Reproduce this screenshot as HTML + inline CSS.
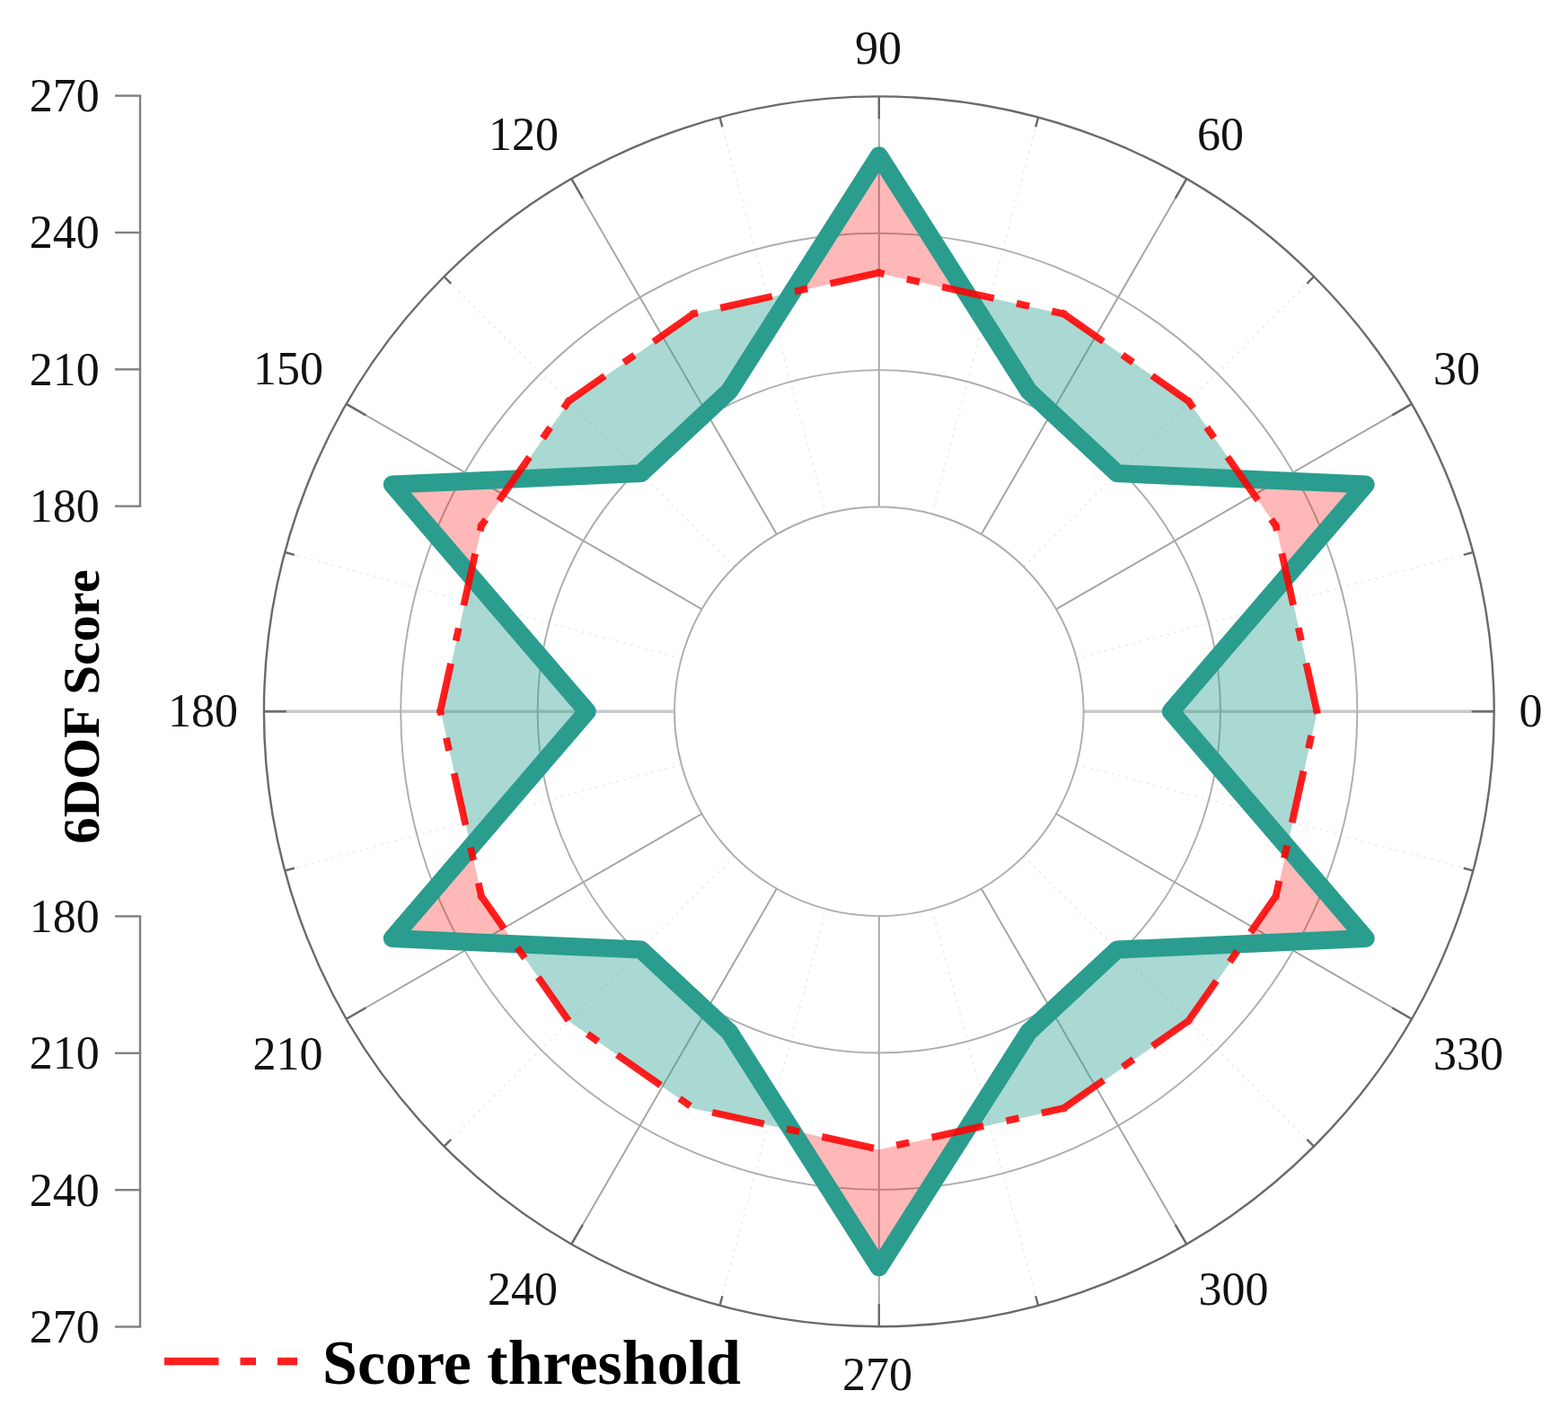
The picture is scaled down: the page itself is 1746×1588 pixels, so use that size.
<!DOCTYPE html>
<html lang="en">
<head>
<meta charset="utf-8">
<title>6DOF Score polar chart</title>
<style>
html, body { margin: 0; padding: 0; background: #ffffff; }
body { width: 1746px; height: 1588px; overflow: hidden; font-family: "Liberation Serif", serif; }
svg { display: block; filter: blur(0.6px); }
</style>
</head>
<body>
<svg width="1746" height="1588" viewBox="0 0 1746 1588">
<rect width="1746" height="1588" fill="#ffffff"/>
<g stroke="#eeeeee" stroke-width="1.8" stroke-dasharray="3 5" fill="none">
<line x1="1198.84" y1="733.34" x2="1640.36" y2="615.03"/>
<line x1="1139.88" y1="631.22" x2="1463.10" y2="308.00"/>
<line x1="1037.76" y1="572.26" x2="1156.07" y2="130.74"/>
<line x1="919.84" y1="572.26" x2="801.53" y2="130.74"/>
<line x1="817.72" y1="631.22" x2="494.50" y2="308.00"/>
<line x1="758.76" y1="733.34" x2="317.24" y2="615.03"/>
<line x1="758.76" y1="851.26" x2="317.24" y2="969.57"/>
<line x1="817.72" y1="953.38" x2="494.50" y2="1276.60"/>
<line x1="919.84" y1="1012.34" x2="801.53" y2="1453.86"/>
<line x1="1037.76" y1="1012.34" x2="1156.07" y2="1453.86"/>
<line x1="1139.88" y1="953.38" x2="1463.10" y2="1276.60"/>
<line x1="1198.84" y1="851.26" x2="1640.36" y2="969.57"/>
</g>
<g stroke="#a4a4a4" stroke-width="1.9" fill="none">
<line x1="1206.60" y1="792.30" x2="1663.70" y2="792.30" stroke="#c9c9c9" stroke-width="3.6"/>
<line x1="1176.08" y1="678.40" x2="1571.94" y2="449.85"/>
<line x1="1092.70" y1="595.02" x2="1321.25" y2="199.16"/>
<line x1="978.80" y1="564.50" x2="978.80" y2="107.40"/>
<line x1="864.90" y1="595.02" x2="636.35" y2="199.16"/>
<line x1="781.52" y1="678.40" x2="385.66" y2="449.85"/>
<line x1="751.00" y1="792.30" x2="293.90" y2="792.30" stroke="#c9c9c9" stroke-width="3.6"/>
<line x1="781.52" y1="906.20" x2="385.66" y2="1134.75"/>
<line x1="864.90" y1="989.58" x2="636.35" y2="1385.44"/>
<line x1="978.80" y1="1020.10" x2="978.80" y2="1477.20"/>
<line x1="1092.70" y1="989.58" x2="1321.25" y2="1385.44"/>
<line x1="1176.08" y1="906.20" x2="1571.94" y2="1134.75"/>
</g>
<g stroke="#adadad" stroke-width="1.9" fill="none">
<circle cx="978.8" cy="792.3" r="227.80"/>
<circle cx="978.8" cy="792.3" r="380.17"/>
<circle cx="978.8" cy="792.3" r="532.53"/>
</g>
<circle cx="978.8" cy="792.3" r="684.9" stroke="#6a6a6a" stroke-width="2.4" fill="none"/>
<g stroke="#6a6a6a" stroke-width="2.4" fill="none">
<line x1="1663.70" y1="792.30" x2="1638.70" y2="792.30"/>
<line x1="1640.36" y1="615.03" x2="1629.74" y2="617.88"/>
<line x1="1571.94" y1="449.85" x2="1550.29" y2="462.35"/>
<line x1="1463.10" y1="308.00" x2="1455.32" y2="315.78"/>
<line x1="1321.25" y1="199.16" x2="1308.75" y2="220.81"/>
<line x1="1156.07" y1="130.74" x2="1153.22" y2="141.36"/>
<line x1="978.80" y1="107.40" x2="978.80" y2="132.40"/>
<line x1="801.53" y1="130.74" x2="804.38" y2="141.36"/>
<line x1="636.35" y1="199.16" x2="648.85" y2="220.81"/>
<line x1="494.50" y1="308.00" x2="502.28" y2="315.78"/>
<line x1="385.66" y1="449.85" x2="407.31" y2="462.35"/>
<line x1="317.24" y1="615.03" x2="327.86" y2="617.88"/>
<line x1="293.90" y1="792.30" x2="318.90" y2="792.30"/>
<line x1="317.24" y1="969.57" x2="327.86" y2="966.72"/>
<line x1="385.66" y1="1134.75" x2="407.31" y2="1122.25"/>
<line x1="494.50" y1="1276.60" x2="502.28" y2="1268.82"/>
<line x1="636.35" y1="1385.44" x2="648.85" y2="1363.79"/>
<line x1="801.53" y1="1453.86" x2="804.38" y2="1443.24"/>
<line x1="978.80" y1="1477.20" x2="978.80" y2="1452.20"/>
<line x1="1156.07" y1="1453.86" x2="1153.22" y2="1443.24"/>
<line x1="1321.25" y1="1385.44" x2="1308.75" y2="1363.79"/>
<line x1="1463.10" y1="1276.60" x2="1455.32" y2="1268.82"/>
<line x1="1571.94" y1="1134.75" x2="1550.29" y2="1122.25"/>
<line x1="1640.36" y1="969.57" x2="1629.74" y2="966.72"/>
</g>
<path d="M1303.80,792.30 L1433.35,641.41 L1466.80,792.30Z M1384.23,533.44 L1243.97,527.13 L1323.87,447.23Z M1243.97,527.13 L1145.31,435.21 L1185.04,350.02 L1323.87,447.23Z M1145.31,435.21 L1075.75,325.79 L1185.04,350.02Z M881.85,325.79 L812.29,435.21 L772.56,350.02Z M812.29,435.21 L713.63,527.13 L633.73,447.23 L772.56,350.02Z M713.63,527.13 L573.37,533.44 L633.73,447.23Z M524.25,641.41 L653.80,792.30 L490.80,792.30Z M653.80,792.30 L524.25,943.19 L490.80,792.30Z M573.37,1051.16 L713.63,1057.47 L633.73,1137.37Z M713.63,1057.47 L812.29,1149.39 L772.56,1234.58 L633.73,1137.37Z M812.29,1149.39 L881.85,1258.81 L772.56,1234.58Z M1075.75,1258.81 L1145.31,1149.39 L1185.04,1234.58Z M1145.31,1149.39 L1243.97,1057.47 L1323.87,1137.37 L1185.04,1234.58Z M1243.97,1057.47 L1384.23,1051.16 L1323.87,1137.37Z M1433.35,943.19 L1303.80,792.30 L1466.80,792.30Z" fill="#2a9d8f" fill-opacity="0.4" stroke="none"/>
<path d="M1433.35,641.41 L1520.77,539.57 L1421.08,586.06Z M1520.77,539.57 L1384.23,533.44 L1421.08,586.06Z M1075.75,325.79 L978.80,173.30 L978.80,304.30Z M978.80,173.30 L881.85,325.79 L978.80,304.30Z M573.37,533.44 L436.83,539.57 L536.52,586.06Z M436.83,539.57 L524.25,641.41 L536.52,586.06Z M524.25,943.19 L436.83,1045.03 L536.52,998.54Z M436.83,1045.03 L573.37,1051.16 L536.52,998.54Z M881.85,1258.81 L978.80,1411.30 L978.80,1280.30Z M978.80,1411.30 L1075.75,1258.81 L978.80,1280.30Z M1384.23,1051.16 L1520.77,1045.03 L1421.08,998.54Z M1520.77,1045.03 L1433.35,943.19 L1421.08,998.54Z" fill="#ff0000" fill-opacity="0.28" stroke="none"/>
<polygon points="1303.80,792.30 1520.77,539.57 1243.97,527.13 1145.31,435.21 978.80,173.30 812.29,435.21 713.63,527.13 436.83,539.57 653.80,792.30 436.83,1045.03 713.63,1057.47 812.29,1149.39 978.80,1411.30 1145.31,1149.39 1243.97,1057.47 1520.77,1045.03" fill="none" stroke="#2a9d8f" stroke-width="20.0" stroke-linejoin="round"/>
<path transform="translate(-0.5,-0.5)" d="M1467.45,795.23 L1454.98,738.99 M1449.39,713.76 L1446.25,699.60 M1440.65,674.36 L1427.88,616.76 M1422.29,591.52 L1420.43,583.13 M1422.80,588.52 L1415.97,578.77 M1401.14,557.59 L1367.30,509.26 M1352.48,488.09 L1344.16,476.21 M1329.33,455.03 L1322.15,444.77 M1326.33,448.95 L1283.34,418.85 M1262.17,404.03 L1250.29,395.71 M1229.11,380.88 L1182.58,348.30 M1187.97,350.67 L1171.86,347.10 M1146.63,341.51 L1132.47,338.37 M1107.23,332.77 L1049.63,320.00 M1024.39,314.41 L1010.24,311.27 M985.00,305.67 L975.87,303.65 M981.73,303.65 L924.96,316.24 M899.72,321.83 L885.57,324.97 M860.33,330.56 L802.73,343.33 M777.49,348.93 L769.63,350.67 M775.02,348.30 L728.16,381.11 M706.99,395.94 L695.11,404.26 M673.93,419.08 L631.27,448.95 M635.45,444.77 L628.04,455.36 M613.21,476.54 L604.90,488.41 M590.07,509.59 L556.23,557.92 M541.40,579.09 L534.80,588.52 M537.17,583.13 L535.22,591.91 M529.63,617.15 L516.86,674.75 M511.26,699.99 L508.13,714.14 M502.53,739.38 L490.15,795.23 M490.15,789.37 L491.84,796.98 M497.43,822.22 L500.57,836.38 M506.17,861.61 L518.94,919.22 M524.53,944.45 L527.67,958.61 M533.26,983.85 L537.17,1001.47 M534.80,996.08 L561.73,1034.54 M576.56,1055.72 L584.88,1067.59 M599.70,1088.77 L633.54,1137.10 M654.64,1152.01 L666.52,1160.32 M687.69,1175.15 L736.02,1208.99 M757.20,1223.82 L769.07,1232.14 M793.64,1239.25 L851.24,1252.02 M876.48,1257.62 L890.64,1260.75 M915.87,1266.35 L973.48,1279.12 M998.71,1275.89 L1012.87,1272.75 M1038.11,1267.15 L1095.71,1254.38 M1120.94,1248.79 L1135.10,1245.65 M1160.34,1240.05 L1187.97,1233.93 M1182.58,1236.30 L1229.52,1203.43 M1250.69,1188.61 L1262.57,1180.29 M1283.75,1165.46 L1326.33,1135.65 M1322.15,1139.83 L1355.02,1092.87 M1369.85,1071.70 L1378.17,1059.82 M1393.00,1038.64 L1422.80,996.08 M1420.43,1001.47 L1424.90,981.32 M1430.49,956.08 L1433.63,941.92 M1439.22,916.69 L1451.99,859.08 M1457.59,833.85 L1460.73,819.69 M1466.32,794.45 L1467.45,789.37" fill="none" stroke="#ff0000" stroke-opacity="0.88" stroke-width="7.8" stroke-linecap="butt" stroke-linejoin="round"/>
<g font-family="'Liberation Serif', serif" font-size="52" fill="#111">
<text x="978" y="70.5" text-anchor="middle">90</text>
<text x="1359" y="166.5" text-anchor="middle">60</text>
<text x="1622" y="427.5" text-anchor="middle">30</text>
<text x="1704.5" y="809" text-anchor="middle">0</text>
<text x="1635" y="1190.5" text-anchor="middle">330</text>
<text x="1373.5" y="1452.5" text-anchor="middle">300</text>
<text x="977" y="1548" text-anchor="middle">270</text>
<text x="582" y="1452.5" text-anchor="middle">240</text>
<text x="320.5" y="1190.5" text-anchor="middle">210</text>
<text x="226" y="809" text-anchor="middle">180</text>
<text x="321" y="427.5" text-anchor="middle">150</text>
<text x="583" y="166.5" text-anchor="middle">120</text>
</g>
<g stroke="#808080" stroke-width="2.4" fill="none">
<line x1="156.0" y1="563.70" x2="156.0" y2="106.60"/>
<line x1="128.0" y1="563.70" x2="157.2" y2="563.70"/>
<line x1="128.0" y1="411.33" x2="157.2" y2="411.33"/>
<line x1="128.0" y1="258.97" x2="157.2" y2="258.97"/>
<line x1="128.0" y1="106.60" x2="157.2" y2="106.60"/>
<line x1="156.0" y1="1020.40" x2="156.0" y2="1477.50"/>
<line x1="128.0" y1="1020.40" x2="157.2" y2="1020.40"/>
<line x1="128.0" y1="1172.77" x2="157.2" y2="1172.77"/>
<line x1="128.0" y1="1325.13" x2="157.2" y2="1325.13"/>
<line x1="128.0" y1="1477.50" x2="157.2" y2="1477.50"/>
</g>
<g font-family="'Liberation Serif', serif" font-size="52" fill="#111" text-anchor="end">
<text x="110.8" y="581.10">180</text>
<text x="110.8" y="428.73">210</text>
<text x="110.8" y="276.37">240</text>
<text x="110.8" y="124.00">270</text>
<text x="110.8" y="1037.80">180</text>
<text x="110.8" y="1190.17">210</text>
<text x="110.8" y="1342.53">240</text>
<text x="110.8" y="1494.90">270</text>
</g>
<text transform="translate(109.5,787) rotate(-90)" text-anchor="middle" textLength="305.5" lengthAdjust="spacingAndGlyphs" font-family="'Liberation Serif', serif" font-weight="bold" font-size="56" fill="#000">6DOF Score</text>
<path d="M183,1516 H243.5 M267.5,1516 H285 M309,1516 H331" stroke="#ff0000" stroke-opacity="0.88" stroke-width="8.6" stroke-linecap="butt" fill="none"/>
<text x="359" y="1541" font-family="'Liberation Serif', serif" font-weight="bold" font-size="70" fill="#000">Score threshold</text>
</svg>
</body>
</html>
